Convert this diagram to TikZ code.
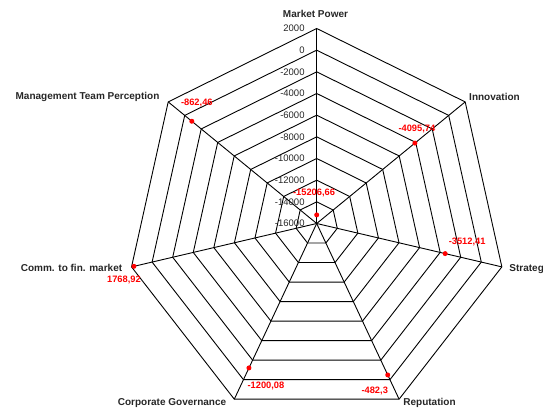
\documentclass[tikz,border=0pt]{standalone}
\usepackage{fontspec}
\setmainfont{Liberation Sans}
\begin{document}
\begin{tikzpicture}[x=1pt, y=1pt, line width=0.9pt,
  axislabel/.style={font=\bfseries\fontsize{10}{12}\selectfont, text=black!85, inner sep=0pt},
  ticklabel/.style={font=\fontsize{9.5}{11}\selectfont, text=black!85, anchor=east, inner sep=0pt},
  datalabel/.style={font=\bfseries\fontsize{9.3}{11}\selectfont, text=red, inner sep=0pt},
  datapoint/.style={circle, fill=red, inner sep=0pt, minimum size=5pt}]
\useasboundingbox (0,0) rectangle (543,409);
\coordinate (ctr) at (316.7,185.5);
\begin{scope}[shift={(ctr)}, xscale=0.974]
\foreach \r in {1,...,9}
  \draw (90:\r*21.667) \foreach \k in {1,...,6}{ -- (90-\k*360/7:\r*21.667)} -- cycle;
\foreach \k/\nm in {0/mp,1/inn,2/str,3/rep,4/cg,5/cfm,6/mtp}{
  \coordinate (ax\nm) at (90-\k*360/7:195);
  \draw (ctr) -- (ax\nm);
}
\node[datapoint] (dmp) at (90:8.6) {};
\node[datapoint] (dinn) at (90-360/7:128.96) {};
\node[datapoint] (dstr) at (90-2*360/7:135.28) {};
\node[datapoint] (drep) at (90-3*360/7:168.11) {};
\node[datapoint] (dcg) at (90-4*360/7:160.33) {};
\node[datapoint] (dcfm) at (90-5*360/7:192.5) {};
\node[datapoint] (dmtp) at (90-6*360/7:163.99) {};
\end{scope}
\foreach \i/\val in {0/-16000,1/-14000,2/-12000,3/-10000,4/-8000,5/-6000,6/-4000,7/-2000,8/0,9/2000}
  \node[ticklabel] (tick\i) at (305,185.5+\i*21.667) {\val};
\node[datalabel] (lmp) at ([shift={(-2.7,21.7)}]dmp) {-15206,66};
\node[datalabel] (linn) at ([shift={(2,14)}]dinn) {-4095,74};
\node[datalabel] (lstr) at ([shift={(22,12)}]dstr) {-3512,41};
\node[datalabel] (lrep) at ([shift={(-13,-16)}]drep) {-482,3};
\node[datalabel] (lcg) at ([shift={(17,-18)}]dcg) {-1200,08};
\node[datalabel] (lcfm) at ([shift={(-10,-14)}]dcfm) {1768,92};
\node[datalabel] (lmtp) at ([shift={(5,18)}]dmtp) {-862,46};
\node[axislabel] (nmp) at (315.5,395) {Market Power};
\node[axislabel] (ninn) at (494.5,312) {Innovation};
\node[axislabel, anchor=west] (nstr) at (509,140) {Strateg};
\node[axislabel] (nrep) at (429.5,6) {Reputation};
\node[axislabel] (ncg) at (172,6) {Corporate Governance};
\node[axislabel] (ncfm) at (71.5,141) {Comm. to fin. market};
\node[axislabel] (nmtp) at (87.5,312) {Management Team Perception};
\end{tikzpicture}
\end{document}
